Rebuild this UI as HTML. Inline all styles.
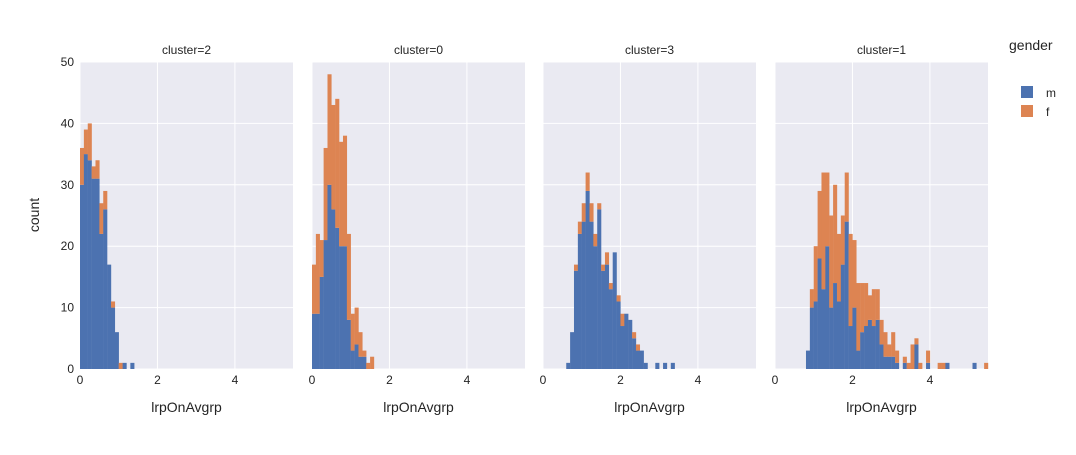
<!DOCTYPE html>
<html><head><meta charset="utf-8"><style>
body{margin:0;background:#fff;font-family:"Liberation Sans",sans-serif}
</style></head><body>
<svg id="chart" width="1076" height="450" xmlns="http://www.w3.org/2000/svg" style="font-family:'Liberation Sans',sans-serif">
<text x="39" y="215" font-size="14" fill="#242424" text-anchor="middle" transform="rotate(-90 39 215)">count</text>
<g>
<text x="1009" y="50" font-size="14" fill="#242424">gender</text>
<rect x="1021" y="86" width="12" height="12" fill="#4c72b0"/>
<text x="1046" y="97" font-size="12" fill="#242424">m</text>
<rect x="1021" y="105" width="12" height="12" fill="#dd8452"/>
<text x="1046" y="116" font-size="12" fill="#242424">f</text>
</g>
</svg>
<script>
const panelTitles=["cluster=2","cluster=0","cluster=3","cluster=1"];
const binSize=0.1;
const yTicks=[0,10,20,30,40,50];
const xTicks=[0,2,4];
const startBins=[0,0,6,8];
const mCounts=[
[30,35,34,31,31,22,26,17,10,6,0,1,0,1],
[9,9,15,21,30,26,23,20,20,8,3,4,2,2,0,0],
[1,6,16,22,24,29,24,20,26,16,17,13,19,11,7,9,8,5,3,3,1,0,0,1,0,1,0,1],
[3,10,11,18,13,20,10,14,11,17,24,7,10,3,6,7,8,7,8,4,2,2,2,1,0,1,0,0,4,0,0,1,0,0,0,0,1,0,0,0,0,0,0,1,0,0,0]
];
const fCounts=[
[6,4,6,2,3,5,3,0,1,0,1,0,0,0],
[8,13,6,15,18,17,21,17,18,14,6,6,4,1,1,2],
[0,0,1,2,3,3,3,2,1,1,2,1,0,1,2,0,0,1,1,0,0,0,0,0,0,0,0,0],
[0,3,9,11,19,12,15,16,11,8,8,15,11,11,8,7,4,6,5,4,4,2,4,2,0,1,1,4,1,1,0,2,0,0,1,1,0,0,0,0,0,0,0,0,0,0,1]
];
const svg=document.getElementById('chart');
const NS='http://www.w3.org/2000/svg';
const domains=[[80,293],[312,525],[543,756],[775,988]];
const yTop=62,yBot=369,yMax=50,xMax=5.5;
const txtCol='#242424';
function mk(t,a,p){const e=document.createElementNS(NS,t);for(const k in a)e.setAttribute(k,a[k]);(p||svg).appendChild(e);return e;}
domains.forEach((d,pi)=>{
  const [x0,x1]=d;
  const sx=v=>x0+v/xMax*(x1-x0);
  const sy=v=>yBot-v/yMax*(yBot-yTop);
  const g=mk('g',{});
  
  
  const bg=mk('rect',{x:x0,y:yTop,width:x1-x0,height:yBot-yTop,fill:'#eaeaf2'},g);
  
  
  yTicks.forEach(t=>{
    const l=mk('line',{x1:x0,x2:x1,y1:sy(t),y2:sy(t),stroke:'#fff','stroke-width':1},g);
    
    
    if(pi===0){const tx=mk('text',{x:x0-6,y:sy(t)+4,'font-size':12,fill:txtCol,'text-anchor':'end'},g);tx.textContent=t;
      
      }
  });
  xTicks.forEach(t=>{
    const l=mk('line',{x1:sx(t),x2:sx(t),y1:yTop,y2:yBot,stroke:'#fff','stroke-width':1},g);
    
    
    const tx=mk('text',{x:sx(t),y:yBot+15,'font-size':12,fill:txtCol,'text-anchor':'middle'},g);tx.textContent=t;
    
    
  });
  const m=mCounts[pi],f=fCounts[pi];
  m.forEach((mv,i)=>{
    const lo=(startBins[pi]+i)*binSize,hi=lo+binSize;
    const bx=sx(lo),bw=sx(hi)-sx(lo);
    if(mv>0){const r=mk('rect',{x:bx,y:sy(mv),width:bw+0.2,height:sy(0)-sy(mv),fill:'#4c72b0'},g);
      
      }
    const fv=f[i]||0;
    if(fv>0){const r=mk('rect',{x:bx,y:sy(mv+fv),width:bw+0.2,height:sy(mv)-sy(mv+fv),fill:'#dd8452'},g);
      
      }
  });
  const tt=mk('text',{x:(x0+x1)/2,y:54,'font-size':12,fill:txtCol,'text-anchor':'middle'},g);tt.textContent=panelTitles[pi];
  
  
  const at=mk('text',{x:(x0+x1)/2,y:412,'font-size':14,fill:txtCol,'text-anchor':'middle'},g);at.textContent='lrpOnAvgrp';
  
  
});
</script>
</body></html>
